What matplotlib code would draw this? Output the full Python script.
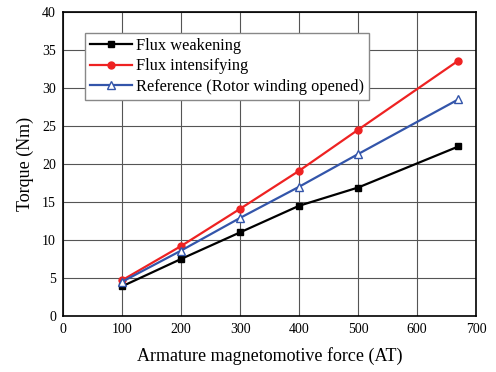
import matplotlib
matplotlib.use("Agg")
import matplotlib.pyplot as plt

plt.rcParams['font.family'] = ['Liberation Serif', 'DejaVu Serif']

mmf = [100, 200, 300, 400, 500, 670]
weakening = [3.9, 7.5, 11.0, 14.5, 16.9, 22.3]
intensifying = [4.7, 9.2, 14.1, 19.1, 24.5, 33.6]
reference = [4.5, 8.6, 12.9, 17.0, 21.3, 28.5]

fig = plt.figure(figsize=(4.96, 3.72), dpi=100)
ax = fig.add_axes([0.127, 0.1505, 0.833, 0.8175])

ax.plot(mmf, weakening, color='black', marker='s', markersize=5, lw=1.6, label='Flux weakening')
ax.plot(mmf, intensifying, color='#ee2222', marker='o', markersize=5, lw=1.6, label='Flux intensifying')
ax.plot(mmf, reference, color='#3355aa', marker='^', markersize=6, markerfacecolor='white',
        lw=1.6, label='Reference (Rotor winding opened)')

ax.set_xlim(0, 700)
ax.set_ylim(0, 40)
ax.set_xticks(range(0, 701, 100))
ax.set_yticks(range(0, 41, 5))
ax.grid(True, color='#555555', lw=0.8)
ax.set_axisbelow(True)
for s in ax.spines.values():
    s.set_linewidth(1.2)
ax.tick_params(labelsize=10, length=0, pad=5)
ax.set_xlabel('Armature magnetomotive force (AT)', fontsize=13, labelpad=8)
ax.set_ylabel('Torque (Nm)', fontsize=13, labelpad=6)

leg = ax.legend(loc='upper left', bbox_to_anchor=(0.053, 0.931), fontsize=11.8, fancybox=False,
                framealpha=1, edgecolor='#888888', handlelength=2.6, handletextpad=0.2,
                borderpad=0.3, labelspacing=0.28, borderaxespad=0)
leg.get_frame().set_linewidth(1.0)

fig.savefig('out.png', dpi=100)
